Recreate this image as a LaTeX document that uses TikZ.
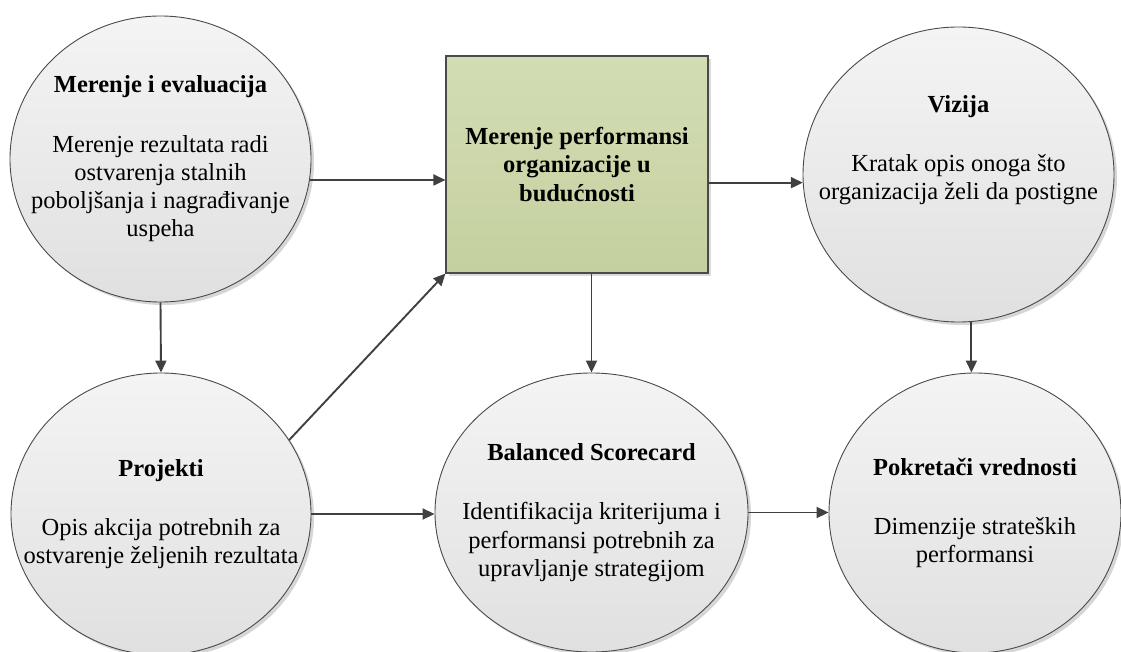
\documentclass[tikz,border=0pt]{standalone}
\usepackage{fontspec}
\setmainfont{LiberationSerif}[Extension=.ttf, UprightFont=*-Regular, BoldFont=*-Bold, ItalicFont=*-Italic, BoldItalicFont=*-BoldItalic]
\usetikzlibrary{shapes.geometric,arrows.meta,shadows}
\definecolor{edgegray}{HTML}{4A4A4A}
\definecolor{arrowgray}{HTML}{404040}
\definecolor{discTop}{HTML}{F4F4F4}
\definecolor{discBot}{HTML}{E0E0E0}
\definecolor{boxTop}{HTML}{D3DDB5}
\definecolor{boxBot}{HTML}{C5D09F}
\begin{document}
\begin{tikzpicture}[x=1pt,y=-1pt,
  disc/.style={ellipse, draw=edgegray, line width=0.9pt, inner sep=0pt,
    top color=discTop, bottom color=discBot,
    drop shadow={shadow xshift=3pt, shadow yshift=-3pt, fill=black!16, opacity=1}},
  panel/.style={rectangle, draw=edgegray, line width=1.1pt, inner sep=0pt,
    top color=boxTop, bottom color=boxBot,
    drop shadow={shadow xshift=3pt, shadow yshift=-3pt, fill=black!14, opacity=1}},
  caption/.style={align=center, inner sep=0pt, text=black,
    font=\rmfamily\fontsize{24.5}{28.3}\selectfont},
  flow/.style={draw=arrowgray, line width=1.9pt, -{Triangle[length=12pt,width=11pt]}}
]
\useasboundingbox (0,0) rectangle (1121,652);
\clip (0,0) rectangle (1121,652);

% shapes
\node[disc, minimum width=301pt, minimum height=286pt] (meas) at (160.5,159) {};
\node[disc, minimum width=300pt, minimum height=282pt] (proj) at (161,514) {};
\node[disc, minimum width=313pt, minimum height=279pt] (bsc)  at (591.5,512.5) {};
\node[disc, minimum width=311pt, minimum height=295pt] (viz)  at (958.5,174.5) {};
\node[disc, minimum width=292pt, minimum height=280pt] (pok)  at (975,513) {};
\node[panel, minimum width=262pt, minimum height=217pt] (perf) at (577,164.5) {};

% texts
\node[caption] (meas-t) at (meas.center) {\textbf{Merenje i evaluacija}\\[31pt]Merenje rezultata radi\\ostvarenja stalnih\\poboljšanja i nagrađivanje\\uspeha};
\node[caption] (proj-t) at (proj.center) {\textbf{Projekti}\\[31pt]Opis akcija potrebnih za\\ostvarenje željenih rezultata};
\node[caption] (bsc-t) at (bsc.center) {\textbf{Balanced Scorecard}\\[31pt]Identifikacija kriterijuma i\\performansi potrebnih za\\upravljanje strategijom};
\node[caption] (viz-t) at (958.5,150) {\textbf{Vizija}\\[31pt]Kratak opis onoga što\\organizacija želi da postigne};
\node[caption] (pok-t) at (pok.center) {\textbf{Pokretači vrednosti}\\[31pt]Dimenzije strateških\\performansi};
\node[caption, font=\rmfamily\fontsize{24.5}{28.3}\selectfont\bfseries] (perf-t) at (perf.center) {Merenje performansi\\organizacije u\\budućnosti};

% connectors
\draw[flow] (meas.-8.8) -- (perf.west |- meas.-8.8);
\draw[flow] (perf.east |- viz.183.1) -- (viz.183.1);
\draw[flow] (meas.south) -- (proj.north);
\draw[flow] (proj.30.2) -- (perf.south west);
\draw[flow] (perf.south -| bsc.north) -- (bsc.north);
\draw[flow] (viz.-85.9) -- (viz.-85.9 |- pok.north);
\draw[flow] (proj.east) -- (proj.east -| bsc.west);
\draw[flow] (bsc.east) -- (bsc.east -| pok.west);
\end{tikzpicture}
\end{document}
